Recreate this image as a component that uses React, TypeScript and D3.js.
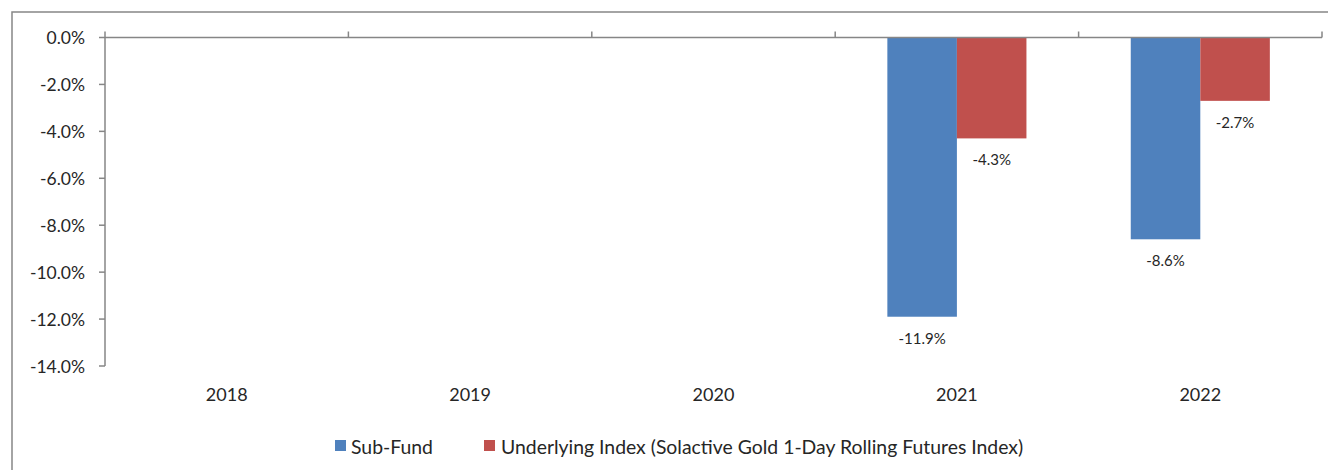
import React from "react";
import * as d3 from "d3";

const categories = ["2018", "2019", "2020", "2021", "2022"];
const seriesNames = ["Sub-Fund", "Underlying Index (Solactive Gold 1-Day Rolling Futures Index)"];
const subFund: (number | null)[] = [null, null, null, -11.9, -8.6];
const underlyingIndex: (number | null)[] = [null, null, null, -4.3, -2.7];
const yTicks = [0, -2, -4, -6, -8, -10, -12, -14];
const colors = ["#4F81BD", "#C0504D"];

const W = 1328;
const H = 470;
const FONT = "Lato, 'Open Sans', sans-serif";
const TEXT = "#262626";

export default function App() {
  const left = 105;
  const right = 1322;
  const top = 37.5;
  const bottom = 366;
  const y = d3.scaleLinear().domain([-14, 0]).range([bottom, top]);
  const x0 = d3.scaleBand<string>().domain(categories).range([left, right]).paddingInner(0).paddingOuter(0);
  const bw = x0.bandwidth();
  const barW = bw / 3.5;
  const x1 = d3.scaleBand<string>().domain(seriesNames).range([barW * 0.75, barW * 2.75]).padding(0);
  const allSeries = [subFund, underlyingIndex];
  const axisColor = "#868686";
  const fmt = (v: number) => v.toFixed(1) + "%";

  return (
    <svg width={W} height={H} style={{ position: "absolute", left: 0, top: 0, background: "#fff" }}>
      <rect x={12} y={12} width={W + 20} height={H + 20} fill="#fff" stroke="#878787" strokeWidth={1.5} />
      {/* bars */}
      {allSeries.map((vals, si) =>
        vals.map((v, ci) =>
          v == null ? null : (
            <rect
              key={`b${si}-${ci}`}
              x={(x0(categories[ci]) ?? 0) + (x1(seriesNames[si]) ?? 0)}
              y={y(0)}
              width={x1.bandwidth()}
              height={y(v) - y(0)}
              fill={colors[si]}
            />
          )
        )
      )}
      {/* data labels */}
      {allSeries.map((vals, si) =>
        vals.map((v, ci) =>
          v == null ? null : (
            <text
              key={`l${si}-${ci}`}
              x={(x0(categories[ci]) ?? 0) + (x1(seriesNames[si]) ?? 0) + x1.bandwidth() / 2}
              y={y(v) + 21}
              textAnchor="middle"
              dominantBaseline="central"
              fontFamily={FONT}
              fontSize={15}
              fill={TEXT}
            >
              {fmt(v)}
            </text>
          )
        )
      )}
      {/* y axis */}
      <line x1={left} x2={left} y1={top} y2={bottom} stroke={axisColor} strokeWidth={1.5} />
      {yTicks.map((t) => (
        <g key={`yt${t}`}>
          <line x1={left - 6} x2={left} y1={y(t)} y2={y(t)} stroke={axisColor} strokeWidth={1.5} />
          <text x={85} y={y(t)} textAnchor="end" dominantBaseline="central" fontFamily={FONT} fontSize={17.5} fill={TEXT}>
            {fmt(t)}
          </text>
        </g>
      ))}
      {/* x axis at top (0%) */}
      <line x1={left} x2={right} y1={top} y2={top} stroke={axisColor} strokeWidth={1.5} />
      {categories.map((c, i) => (
        <line key={`xt${i}`} x1={x0(c)!} x2={x0(c)!} y1={top} y2={top - 6} stroke={axisColor} strokeWidth={1.5} />
      ))}
      <line x1={right} x2={right} y1={top} y2={top - 6} stroke={axisColor} strokeWidth={1.5} />
      {categories.map((c) => (
        <text key={`xl${c}`} x={x0(c)! + bw / 2} y={394} textAnchor="middle" dominantBaseline="central" fontFamily={FONT} fontSize={18} fill={TEXT}>
          {c}
        </text>
      ))}
      {/* legend */}
      <rect x={335} y={440} width={11} height={11} fill={colors[0]} />
      <text x={351} y={446} dominantBaseline="central" fontFamily={FONT} fontSize={19.4} fill={TEXT}>
        {seriesNames[0]}
      </text>
      <rect x={484} y={440} width={11} height={11} fill={colors[1]} />
      <text x={501} y={446} dominantBaseline="central" fontFamily={FONT} fontSize={19.4} fill={TEXT}>
        {seriesNames[1]}
      </text>
    </svg>
  );
}
